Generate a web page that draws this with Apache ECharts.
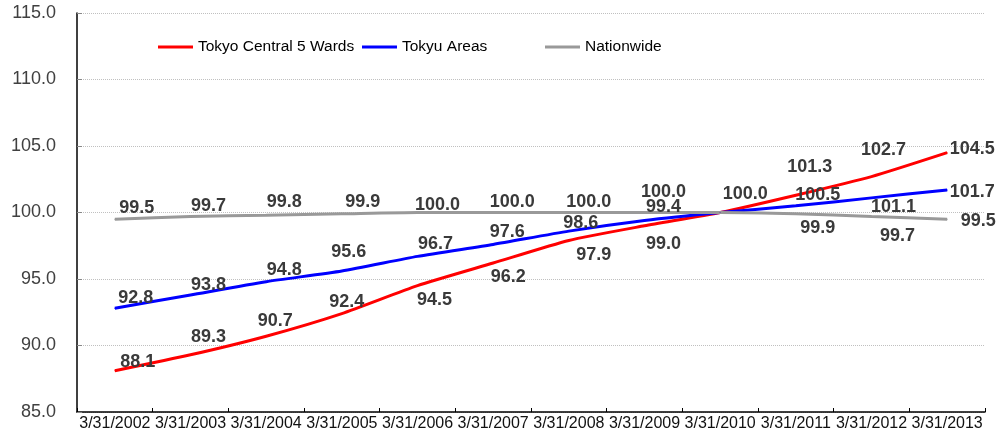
<!DOCTYPE html>
<html>
<head>
<meta charset="utf-8">
<script src="https://cdn.jsdelivr.net/npm/echarts@6/dist/echarts.min.js"></script>
<style>
  html, body { margin: 0; padding: 0; background: #fff; }
  #chart { width: 999px; height: 428px; }
</style>
</head>
<body>
<div id="chart"></div>
<script>
  const dates = ['3/31/2002', '3/31/2003', '3/31/2004', '3/31/2005', '3/31/2006', '3/31/2007',
                 '3/31/2008', '3/31/2009', '3/31/2010', '3/31/2011', '3/31/2012', '3/31/2013']

  const tokyoCentral = [88.1, 89.3, 90.7, 92.4, 94.5, 96.2, 97.9, 99.0, 100.0, 101.3, 102.7, 104.5]
  const tokyuAreas = [92.8, 93.8, 94.8, 95.6, 96.7, 97.6, 98.6, 99.4, 100.0, 100.5, 101.1, 101.7]
  const nationwide = [99.5, 99.7, 99.8, 99.9, 100.0, 100.0, 100.0, 100.0, 100.0, 99.9, 99.7, 99.5]

  // where each data label sits relative to its point (null = no label)
  const redLabelOffset = [[23, -9], [18, -18], [9, -15], [5, -12], [17, 14], [15, 14],
                          [25, 15], [19, 18], [25, -18], [14, -28], [12, -27], [25, -4]]
  const blueLabelOffset = [[21, -10], [18, -10], [18, -12], [7, -19], [18, -12], [14, -12],
                           [12, -8], [19, -13], null, [22, -11], [22, 9], [25, 2]]
  const grayLabelOffset = [[22, -11], [18, -10], [18, -13], [21, -12], [20, -7], [19, -10],
                           [20, -10], [19, -20], null, [22, 14], [26, 20], [31, 2]]

  const font = 'Arial, "Liberation Sans", sans-serif'

  function makeData(values, offsets) {
    return values.map(function (v, i) {
      const off = offsets[i]
      return {
        value: v,
        label: off ? { show: true, offset: off } : { show: false }
      }
    })
  }

  function makeSeries(name, color, values, offsets) {
    return {
      name: name,
      type: 'line',
      smooth: 0.2,
      symbol: 'circle',
      symbolSize: 1,
      showSymbol: true,
      itemStyle: { color: color },
      lineStyle: { color: color, width: 3 },
      label: {
        show: true,
        position: 'inside',
        fontFamily: font,
        fontSize: 18,
        fontWeight: 'bold',
        color: '#3a3a3a',
        formatter: function (p) { return p.value.toFixed(1) }
      },
      emphasis: { disabled: true },
      data: makeData(values, offsets)
    }
  }

  function legendAt(name, left) {
    return {
      data: [name],
      left: left,
      top: 39,
      padding: 0,
      icon: 'rect',
      itemWidth: 35,
      itemHeight: 3,
      itemGap: 0,
      textStyle: { fontFamily: font, fontSize: 15.5, color: '#000' }
    }
  }

  const chart = echarts.init(document.getElementById('chart'))

  const option = {
    animation: false,
    legend: [
      legendAt('Tokyo Central 5 Wards', 158),
      legendAt('Tokyu Areas', 362),
      legendAt('Nationwide', 545)
    ],
    grid: {
      left: 77,
      right: 14,
      top: 13,
      bottom: 16,
      containLabel: false,
      outerBoundsMode: 'none'
    },
    xAxis: {
      type: 'category',
      data: dates,
      boundaryGap: true,
      axisLine: { lineStyle: { color: '#000', width: 1.5 } },
      axisTick: { show: true, inside: true, length: 4, lineStyle: { color: '#000' } },
      axisLabel: {
        interval: 0,
        margin: 4,
        fontFamily: font,
        fontSize: 16,
        color: '#111'
      },
      splitLine: { show: false }
    },
    yAxis: {
      type: 'value',
      min: 85,
      max: 115,
      interval: 5,
      axisLine: { show: true, lineStyle: { color: '#000', width: 1.5 } },
      axisTick: { show: true, inside: true, length: 5, lineStyle: { color: '#888' } },
      axisLabel: {
        margin: 21,
        fontFamily: font,
        fontSize: 18,
        color: '#404040',
        formatter: function (v) { return v.toFixed(1) }
      },
      splitLine: { show: true, lineStyle: { color: '#c0c0c0', type: 'dotted', width: 1 } }
    },
    series: [
      makeSeries('Tokyo Central 5 Wards', '#ff0000', tokyoCentral, redLabelOffset),
      makeSeries('Tokyu Areas', '#0000ff', tokyuAreas, blueLabelOffset),
      makeSeries('Nationwide', '#999999', nationwide, grayLabelOffset)
    ]
  }

  chart.setOption(option)
</script>
</body>
</html>
